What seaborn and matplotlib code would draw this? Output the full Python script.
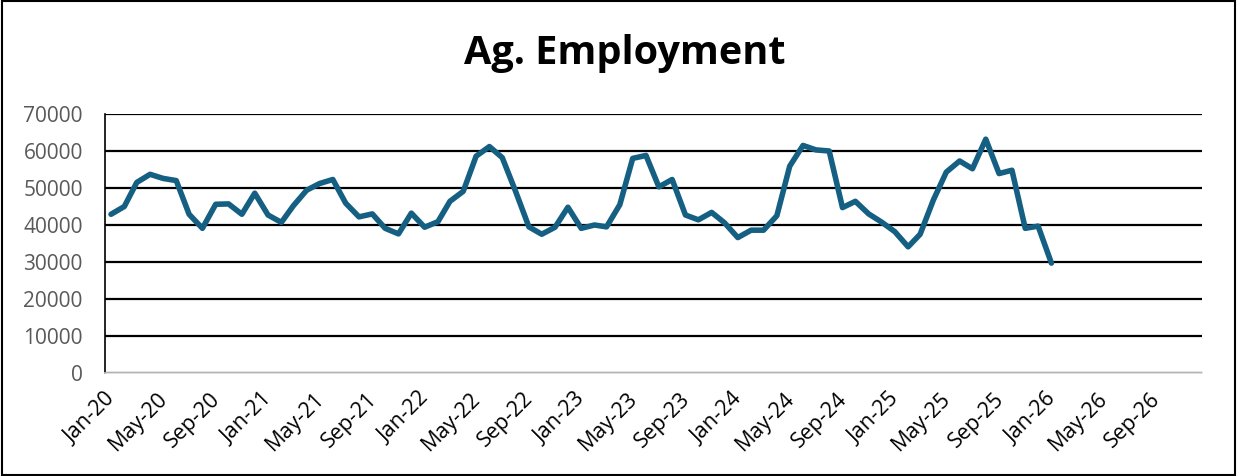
import pandas as pd
import seaborn as sns
import matplotlib.pyplot as plt
import matplotlib.dates as mdates
from matplotlib.transforms import ScaledTranslation

# monthly agricultural employment, Jan-20 .. Jan-26 (plotted mid-month)
months = pd.date_range('2020-01-01', periods=73, freq='MS') + pd.Timedelta(days=14)
employment = [42900, 45000, 51500, 53700, 52600, 52000, 42900, 39100, 45600, 45700,
              42900, 48600, 42700, 40700, 45200, 49400, 51200, 52300, 45900, 42200,
              43000, 39100, 37600, 43200, 39400, 40900, 46400, 49100, 58600, 61200,
              58200, 49100, 39500, 37500, 39400, 44800, 39100, 40000, 39500, 45500,
              58000, 58800, 50300, 52300, 42700, 41400, 43400, 40600, 36600, 38600,
              38600, 42500, 55900, 61500, 60300, 60000, 44700, 46400, 43000, 40800,
              38200, 34100, 37500, 46800, 54300, 57300, 55200, 63200, 53900, 54800,
              39100, 39700, 29700]
y_ticks = [0, 10000, 20000, 30000, 40000, 50000, 60000, 70000]

df = pd.DataFrame({'month': months, 'employment': employment})

sns.set_style('white')
plt.rcParams['font.family'] = ['Open Sans', 'DejaVu Sans']

fig = plt.figure(figsize=(12.37, 4.76), dpi=100)
ax = fig.add_axes([0.0849, 0.2164, 0.8868, 0.5441])

sns.lineplot(data=df, x='month', y='employment', color='#156082', linewidth=4,
             ax=ax)

ax.set_ylim(0, 70000)
ax.set_yticks(y_ticks)
ax.set_yticklabels([str(v) for v in y_ticks])
ax.set_xlim(pd.Timestamp('2020-01-01'), pd.Timestamp('2027-01-01'))
ax.xaxis.set_major_locator(mdates.MonthLocator(bymonth=[1, 5, 9]))
ticks = ax.get_xticks()
labels = [mdates.num2date(t).strftime('%b-%y') for t in ticks]
labels[-1] = ''
ax.set_xticks(ticks)
ax.set_xticklabels(labels, rotation=45, ha='right', rotation_mode='anchor',
                   fontsize=15.5, color='black')
shift = ScaledTranslation(8 / 100, -4 / 100, fig.dpi_scale_trans)
for lab in ax.get_xticklabels():
    lab.set_transform(lab.get_transform() + shift)

ax.yaxis.grid(True, color='black', linewidth=1.6)
ax.set_axisbelow(True)
ax.tick_params(axis='y', labelsize=15, labelcolor='#595959', length=0, pad=16)
ax.tick_params(axis='x', length=6, width=1.2, color='#d9d9d9', pad=5)
for s in ['top', 'right']:
    ax.spines[s].set_visible(False)
ax.spines['left'].set_color('black')
ax.spines['left'].set_linewidth(1.2)
ax.spines['bottom'].set_color('#d9d9d9')
ax.spines['bottom'].set_linewidth(1.2)
ax.set_xlabel('')
ax.set_ylabel('')

fig.text(0.505, 0.887, 'Ag. Employment', ha='center', va='center',
         fontsize=28.5, fontweight='bold', color='black')

fig.patches.append(plt.Rectangle((0.002, 0.003), 0.996, 0.994, transform=fig.transFigure,
                                 fill=False, edgecolor='black', linewidth=1.5))

fig.savefig('out.png', dpi=100)
